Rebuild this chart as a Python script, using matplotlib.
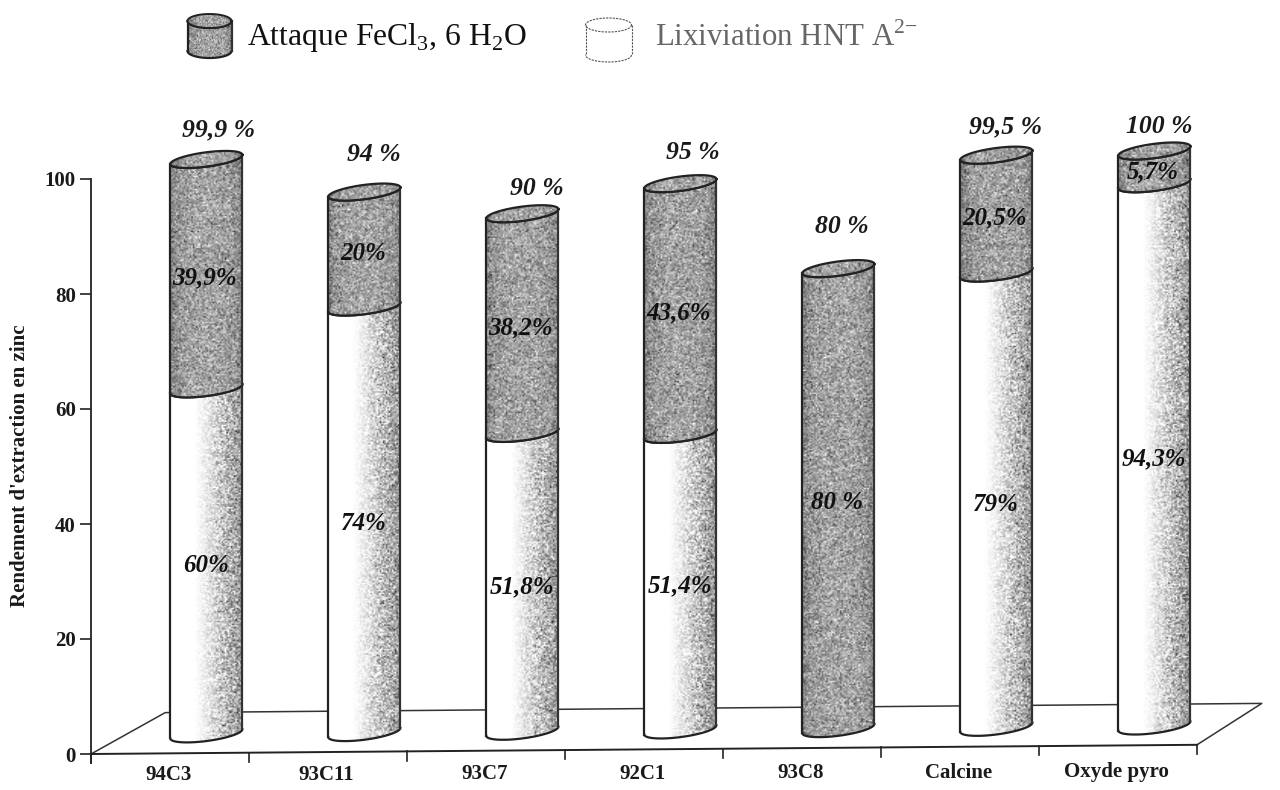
import matplotlib
matplotlib.use('Agg')
import matplotlib.pyplot as plt
from matplotlib.patches import Polygon
import numpy as np

plt.rcParams['font.family'] = ['Liberation Serif', 'DejaVu Serif']
plt.rcParams['mathtext.fontset'] = 'custom'
plt.rcParams['mathtext.rm'] = 'Liberation Serif'

# data
categories = ['94C3', '93C11', '93C7', '92C1', '93C8', 'Calcine', 'Oxyde pyro']
lixiviation = [60, 74, 51.8, 51.4, 0, 79, 94.3]
attaque = [39.9, 20, 38.2, 43.6, 80, 20.5, 5.7]
lixiviation_labels = ['60%', '74%', '51,8%', '51,4%', '', '79%', '94,3%']
attaque_labels = ['39,9%', '20%', '38,2%', '43,6%', '80 %', '20,5%', '5,7%']
total_labels = ['99,9 %', '94 %', '90 %', '95 %', '80 %', '99,5 %', '100 %']
yticks = [0, 20, 40, 60, 80, 100]

# where the hand placed total labels, relative to the top of each cylinder
total_dx = [0.08, 0.06, 0.09, 0.08, 0.02, 0.06, 0.03]
total_dy = [5.2, 6.6, 4.4, 5.4, 7.3, 4.9, 4.3]

# the scan is a little rotated, everything climbs slowly to the right
W, H = 1280, 790
rise = 1.6 / 7
half_w = 0.228
tilt = 0.8
ell_b = 1.25
rng = np.random.default_rng(3)


def stipple(kind, ny, nx=48):
    # speckled shading of the scanned cylinders, only a texture
    t = np.linspace(0, 1, nx)
    noise = rng.normal(0, 1, (ny, nx))
    if kind == 'white':
        shade = np.clip((t - 0.33) / 0.67, 0, 1) ** 1.2
        base = 1.0 - 0.42 * shade
        img = base + noise * 0.17 * np.minimum(shade * 2, 1)
    else:
        base = 0.64 - 0.14 * np.abs(2 * t - 1) ** 4
        img = base + noise * 0.13
    return np.clip(img, 0, 1)


def arc(cx, cy, start, stop, a=half_w, ti=tilt, b=ell_b):
    t = np.linspace(start, stop, 60)
    return np.column_stack([cx + a * np.cos(t), cy + ti * np.cos(t) + b * np.sin(t)])


def textured(ax, pts, kind, z, dens=4.0):
    patch = Polygon(pts, closed=True, fc='none', ec='none', transform=ax.transData)
    ax.add_patch(patch)
    x0, x1 = pts[:, 0].min(), pts[:, 0].max()
    y0, y1 = pts[:, 1].min(), pts[:, 1].max()
    ny = max(int(abs(y1 - y0) * dens), 4)
    xl, yl = ax.get_xlim(), ax.get_ylim()
    im = ax.imshow(stipple(kind, ny), extent=[x0, x1, y0, y1], aspect='auto', cmap='gray',
                   vmin=0, vmax=1, interpolation='bilinear', zorder=z, origin='lower')
    ax.set_xlim(xl)
    ax.set_ylim(yl)
    im.set_clip_box(ax.figure.bbox)
    im.set_clip_path(patch)


def cylinder_part(ax, cx, y0, y1, kind, z=3, a=half_w, ti=tilt, b=ell_b, lw=1.6, dens=4.0):
    front_low = arc(cx, y0, np.pi, 2 * np.pi, a, ti, b)
    front_high = arc(cx, y1, 2 * np.pi, np.pi, a, ti, b)
    pts = np.vstack([front_low, front_high])
    textured(ax, pts, kind, z, dens)
    ax.plot(front_low[:, 0], front_low[:, 1], color='#222222', lw=lw, zorder=z + 1, clip_on=False)
    ax.plot(front_high[:, 0], front_high[:, 1], color='#222222', lw=lw, zorder=z + 1, clip_on=False)
    ax.plot([cx - a, cx - a], [y0 - ti, y1 - ti], color='#222222', lw=lw, zorder=z + 1, clip_on=False)
    ax.plot([cx + a, cx + a], [y0 + ti, y1 + ti], color='#333333', lw=lw, zorder=z + 1, clip_on=False)


fig = plt.figure(figsize=(W / 100, H / 100), dpi=100)
ax = fig.add_axes([91 / W, 1 - 754 / H, (1197 - 91) / W, 575 / H])
ax.set_xlim(0, 7)
ax.set_ylim(0, 100)
ax.patch.set_alpha(0)

# floor of the 3D box
ax.plot([0, 7], [0, 7 * rise], color='#222222', lw=1.4, clip_on=False, zorder=2)
ax.plot([0, 0.47, 7.41, 7], [0, 7.2, 7.2 + 7 * rise, 7 * rise], color='#333333', lw=1.1,
        clip_on=False, zorder=1)
for i in range(8):
    ax.plot([i, i], [i * rise, i * rise - 1.6], color='#222222', lw=1.2, clip_on=False, zorder=2)

for i, cat in enumerate(categories):
    cx = i + 0.73
    base = 3.5 + i * rise
    low_top = base + lixiviation[i]
    top = low_top + attaque[i]
    if lixiviation[i] > 0:
        cylinder_part(ax, cx, base, low_top, 'white', z=3)
    cylinder_part(ax, cx, low_top, top, 'gray', z=5)
    whole = arc(cx, top, 0, 2 * np.pi)
    textured(ax, whole, 'gray', 7)
    ax.plot(whole[:, 0], whole[:, 1], color='#222222', lw=1.6, zorder=8, clip_on=False)
    lab = dict(fontsize=18, fontweight='bold', fontstyle='italic', color='#111111', ha='center',
               va='center', zorder=9, clip_on=False)
    if lixiviation_labels[i]:
        ax.text(cx, (base + low_top) / 2 - 0.7, lixiviation_labels[i], **lab)
    ax.text(cx - 0.01, (low_top + top) / 2 - 0.7, attaque_labels[i], **lab)
    ax.text(cx + total_dx[i], top + total_dy[i], total_labels[i], fontsize=18.5, fontweight='bold',
            fontstyle='italic', color='#1a1a1a', ha='center', va='center', zorder=9, clip_on=False)
    ax.text(i + 0.49, i * 0.09 - 3.7, cat, fontsize=15, fontweight='bold', color='#1a1a1a',
            ha='center', va='center', clip_on=False)

ax.set_xticks([])
ax.set_yticks(yticks)
ax.set_yticklabels([str(v) for v in yticks], fontsize=15, fontweight='bold', color='#1a1a1a')
ax.tick_params(axis='y', length=8, width=1.2, color='#222222', pad=3)
for side in ['top', 'right', 'bottom']:
    ax.spines[side].set_visible(False)
ax.spines['left'].set_linewidth(1.3)
ax.spines['left'].set_color('#222222')
ax.plot([0, 0], [0, -1.6], color='#222222', lw=1.3, clip_on=False)
ax.set_ylabel("Rendement d'extraction en zinc", fontsize=15, fontweight='bold', color='#1a1a1a', va='center')
ax.yaxis.set_label_coords((20 - 91) / (1197 - 91), (754 - 466) / 575)

# legend, drawn in figure pixels on its own axes
leg = fig.add_axes([0, 0, 1, 1])
leg.set_xlim(0, W)
leg.set_ylim(H, 0)
leg.axis('off')
leg.patch.set_alpha(0)
a, b = 22, 7
cylinder_part(leg, 209.5, 51, 21, 'gray', z=3, a=a, ti=0, b=-b, lw=1.6, dens=0.8)
top_icon = arc(209.5, 21, 0, 2 * np.pi, a, 0, b)
textured(leg, top_icon, 'gray', 7, dens=0.8)
leg.plot(top_icon[:, 0], top_icon[:, 1], color='#222222', lw=1.4, zorder=8)
t = np.linspace(0, 2 * np.pi, 60)
icon_x = 608.5 + 23 * np.cos(t)
leg.plot(icon_x, 25 + 7 * np.sin(t), color='#555555', lw=0.8, ls=(0, (2, 1)))
leg.plot(608.5 + 23 * np.cos(t[:31]), 55 + 7 * np.sin(t[:31]), color='#555555', lw=0.8, ls=(0, (2, 1)))
leg.plot([585.5, 585.5], [25, 55], color='#555555', lw=0.8, ls=(0, (2, 1)))
leg.plot([631.5, 631.5], [25, 55], color='#555555', lw=0.8, ls=(0, (2, 1)))
leg.text(247, 37, r'Attaque FeCl$_3$, 6 H$_2$O', fontsize=22.8, color='#111111', va='center', ha='left')
leg.text(655, 38, r'Lixiviation HNT A$^{2\mathrm{-}}$', fontsize=22.2, color='#666666', va='center', ha='left')

fig.savefig('out.png', dpi=100)
